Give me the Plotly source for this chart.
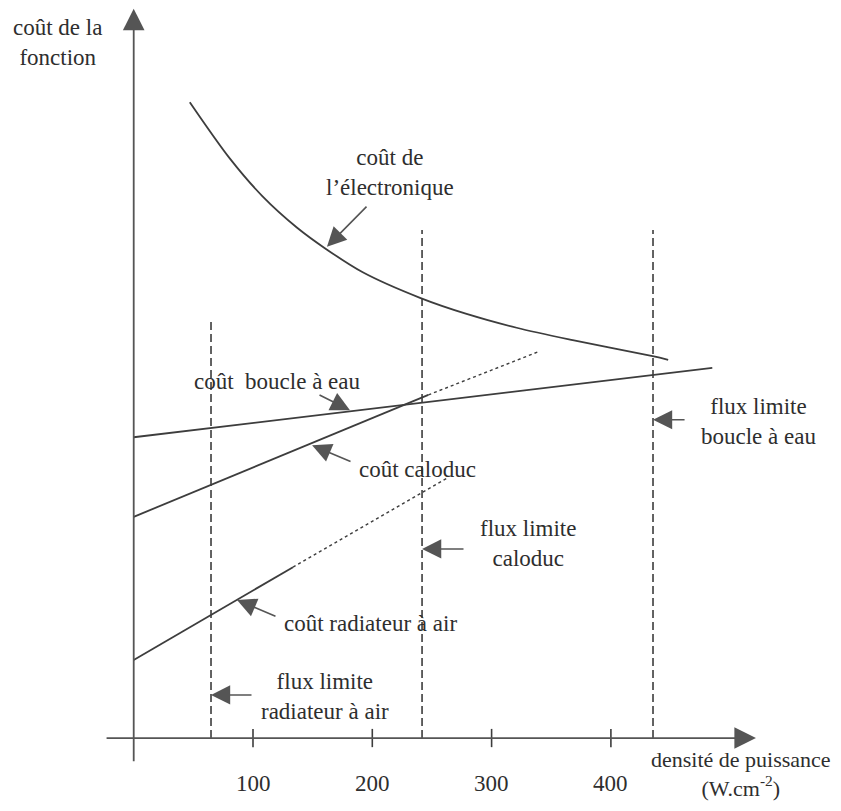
import plotly.graph_objects as go

# ---- data (arbitrary cost units vs power density W/cm2) ----
elec_x = [47, 81, 108, 137, 162, 192, 240, 279, 321, 368, 435, 448]
elec_y = [87.1, 79.3, 74.2, 69.9, 66.9, 63.8, 60.3, 58.1, 56.2, 54.5, 52.3, 51.8]

water_x = [0, 485]
water_y = [41.2, 50.7]

caloduc_x = [0, 247]
caloduc_y = [30.3, 47.0]
caloduc_ext_x = [247, 339]
caloduc_ext_y = [47.0, 52.9]

radiator_x = [0, 133.5]
radiator_y = [10.7, 23.4]
radiator_ext_x = [133.5, 262.6]
radiator_ext_y = [23.4, 35.6]

limit_x = [64.8, 241.7, 435.3]
limit_top = [57.0, 69.6, 69.6]

tick_vals = [100, 200, 300, 400]
tick_text = ["100", "200", "300", "400"]

LINE = "#3d3d3d"
TEXT = "#2e2e2e"
HEAD = "#555555"
FONT = "Liberation Serif"
FS = 23

fig = go.Figure()

fig.add_trace(go.Scatter(x=elec_x, y=elec_y, mode="lines", line=dict(color=LINE, width=1.8, shape="spline", smoothing=0.9), hoverinfo="skip"))
fig.add_trace(go.Scatter(x=water_x, y=water_y, mode="lines", line=dict(color=LINE, width=1.8), hoverinfo="skip"))
fig.add_trace(go.Scatter(x=caloduc_x, y=caloduc_y, mode="lines", line=dict(color=LINE, width=1.8), hoverinfo="skip"))
fig.add_trace(go.Scatter(x=caloduc_ext_x, y=caloduc_ext_y, mode="lines", line=dict(color=LINE, width=1.4, dash="dot"), hoverinfo="skip"))
fig.add_trace(go.Scatter(x=radiator_x, y=radiator_y, mode="lines", line=dict(color=LINE, width=1.8), hoverinfo="skip"))
fig.add_trace(go.Scatter(x=radiator_ext_x, y=radiator_ext_y, mode="lines", line=dict(color=LINE, width=1.4, dash="dot"), hoverinfo="skip"))

for lx, lt in zip(limit_x, limit_top):
    fig.add_trace(go.Scatter(x=[lx, lx], y=[0, lt], mode="lines", line=dict(color=LINE, width=1.6, dash="8px,4px"), hoverinfo="skip"))

shapes = []
for t in tick_vals:
    shapes.append(dict(type="line", xref="x", yref="y", x0=t, x1=t, y0=-1.25, y1=1.25, line=dict(color=LINE, width=1.6)))

annotations = []

def arrow(tip, tail, width=1.6):
    annotations.append(dict(x=tip[0], y=tip[1], ax=tail[0], ay=tail[1], xref="x", yref="y", axref="x", ayref="y",
                            text="", showarrow=True, arrowhead=2, arrowsize=2.4, arrowwidth=width,
                            arrowcolor=HEAD, standoff=0, startstandoff=0))

def label(x, y, text, xanchor="center", yanchor="middle", size=FS):
    annotations.append(dict(x=x, y=y, xref="x", yref="y", text=text, showarrow=False, xanchor=xanchor, yanchor=yanchor,
                            align="center", font=dict(family=FONT, size=size, color=TEXT)))

# axes with arrowheads
arrow((0, 99.9), (0, -3.4), width=1.8)
arrow((521.6, 0), (-24, 0), width=1.8)

for t, s in zip(tick_vals, tick_text):
    label(t, -6.2, s)

label(586, -8.85, "densité de puissance<br>(W.cm<sup>-2</sup>)", xanchor="right", yanchor="bottom", size=22)
label(-64.2, 95.3, "coût de la<br>fonction")

label(215, 77.4, "coût de<br>l’électronique")
arrow((162.0, 67.3), (196.4, 73.0))

label(120.2, 48.8, "coût\u00a0 boucle à eau")
arrow((181.3, 44.9), (154.5, 47.1))

label(237.5, 36.8, "coût caloduc")
arrow((149.5, 40.1), (183.0, 37.8))

label(330.6, 26.7, "flux limite<br>caloduc")
arrow((241.7, 25.9), (277.7, 25.9))

label(523.4, 43.3, "flux limite<br>boucle à eau")
arrow((435.3, 43.6), (463.0, 43.6))

label(198.1, 15.75, "coût radiateur à air")
arrow((86.6, 18.9), (120.1, 16.6))

label(160.3, 5.7, "flux limite<br>radiateur à air")
arrow((64.8, 5.9), (100, 5.9))

# page has an 8px body margin: figure is 825x795 placed at (8,8)
fig.update_layout(
    width=825, height=795,
    margin=dict(l=0, r=0, t=0, b=0),
    paper_bgcolor="white", plot_bgcolor="white",
    showlegend=False,
    xaxis=dict(visible=False, range=[-105.37, 586.17], fixedrange=True),
    yaxis=dict(visible=False, range=[-8.9, 100.0], fixedrange=True),
    shapes=shapes,
    annotations=annotations,
)

fig.write_html("out.html", config={"displayModeBar": False})
